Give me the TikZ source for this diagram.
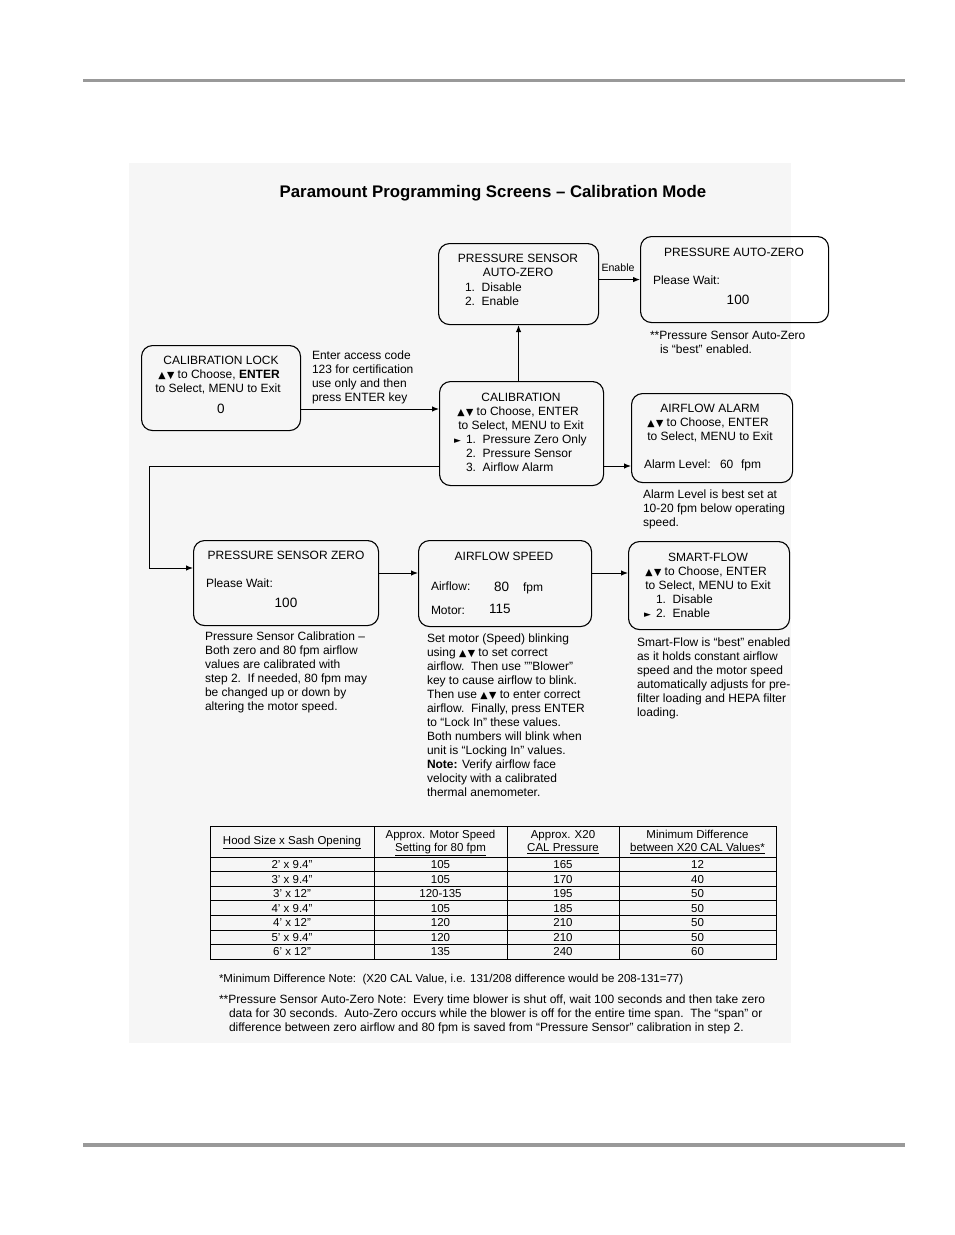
\documentclass[tikz,border=0pt]{standalone}
\usepackage{fontspec}
\setmainfont{Liberation Sans}
\newfontfamily\symf{DejaVu Sans}
\usetikzlibrary{arrows.meta}
\definecolor{rulegray}{HTML}{999999}
\definecolor{scangray}{HTML}{F6F6F6}
\newcounter{ln}
\newcommand\T[4][base west]{\stepcounter{ln}\edef\lnname{L\arabic{ln}}\node[txt,anchor=#1] (\lnname) at (#2,#3) {#4};}
\newcommand\ud{{\symf\fontsize{9.5}{10}\selectfont ▲\hspace{1.5pt}▼}}
\newcommand\rt{{\symf\fontsize{9}{10}\selectfont ►}}
\newcommand\bignum{\fontsize{13.5}{14}\selectfont}
\begin{document}
\begin{tikzpicture}[x=1pt,y=-1pt,
  txt/.style={inner sep=0pt,outer sep=0pt,font=\fontsize{12}{14}\selectfont},
  box/.style={draw,line width=1.1pt,rounded corners=11pt,inner sep=0pt,anchor=north west},
  arr/.style={-{Latex[length=7pt,width=5.5pt]},line width=1pt},
  tab/.style={line width=0.7pt}]
\useasboundingbox (0,0) rectangle (954,1235);
\fill[scangray] (129,163) rectangle (791,1043);
\draw[rulegray,line width=3pt] (83,80) -- (905,80);
\draw[rulegray,line width=3.5pt] (83,1145) -- (905,1145);
\node[inner sep=0pt,anchor=base,font=\bfseries\fontsize{16.8}{18}\selectfont] (title) at (493,197) {Paramount Programming Screens – Calibration Mode};
% boxes
\node[box,minimum width=160pt,minimum height=81pt] (psaz) at (438,243) {};
\node[box,minimum width=188pt,minimum height=86pt] (paz) at (640,236) {};
\node[box,minimum width=159pt,minimum height=85pt] (lock) at (141,345) {};
\node[box,minimum width=164pt,minimum height=104pt] (cal) at (439,381) {};
\node[box,minimum width=161pt,minimum height=89pt] (alarm) at (631,393) {};
\node[box,minimum width=185pt,minimum height=85pt] (pszero) at (193,540) {};
\node[box,minimum width=173pt,minimum height=86pt] (aspeed) at (418,540) {};
\node[box,minimum width=161pt,minimum height=88pt] (smart) at (628,541) {};
% connectors
\draw[arr] (cal.north -| psaz.south) -- (psaz.south);
\draw[arr] (psaz.east |- paz.west) -- (paz.west);
\node[inner sep=0pt,anchor=base,font=\fontsize{10.6}{12}\selectfont] (enable) at (618,271) {Enable};
\draw[arr] (lock.east |- 0,409) -- (cal.west |- 0,409);
\draw[arr] (cal.east |- 0,466) -- (alarm.west |- 0,466);
\coordinate (c1) at (149,466);
\coordinate (c2) at (149,568);
\draw[arr] (cal.west |- c1) -- (c1) -- (c2) -- (pszero.west |- c2);
\draw[arr] (pszero.east |- 0,573) -- (aspeed.west |- 0,573);
\draw[arr] (aspeed.east |- 0,573) -- (smart.west |- 0,573);
% PS auto-zero
\T[base]{518}{262}{PRESSURE SENSOR}
\T[base]{518}{276}{AUTO-ZERO}
\T{465}{291}{1.\ \ Disable}
\T{465}{305}{2.\ \ Enable}
% pressure auto-zero
\T[base]{734}{256}{PRESSURE AUTO-ZERO}
\T{653}{284}{Please Wait:}
\T[base]{738}{304}{\bignum 100}
\T{650}{339}{**Pressure Sensor Auto-Zero}
\T{660}{353}{is “best” enabled.}
% lock
\T[base]{221}{364}{CALIBRATION LOCK}
\T[base]{219}{378}{\ud\ to Choose, \textbf{ENTER}}
\T[base]{218}{392}{to Select, MENU to Exit}
\T[base]{221}{413}{\bignum 0}
\T{312}{359}{Enter access code}
\T{312}{373}{123 for certification}
\T{312}{387}{use only and then}
\T{312}{401}{press ENTER key}
% calibration
\T[base]{521}{401}{CALIBRATION}
\T[base]{518}{415}{\ud\ to Choose, ENTER}
\T[base]{521}{429}{to Select, MENU to Exit}
\T{454}{443}{\rt}
\T{466}{443}{1.\ \ Pressure Zero Only}
\T{466}{457}{2.\ \ Pressure Sensor}
\T{466}{471}{3.\ \ Airflow Alarm}
% airflow alarm
\T[base]{710}{412}{AIRFLOW ALARM}
\T[base]{708}{426}{\ud\ to Choose, ENTER}
\T[base]{710}{440}{to Select, MENU to Exit}
\T{644}{468}{Alarm Level:}
\T{720}{468}{60}
\T{741}{468}{fpm}
\T{643}{498}{Alarm Level is best set at}
\T{643}{512}{10-20 fpm below operating}
\T{643}{526}{speed.}
% pressure sensor zero
\T[base]{286}{559}{PRESSURE SENSOR ZERO}
\T{206}{587}{Please Wait:}
\T[base]{286}{607}{\bignum 100}
\T{205}{640}{Pressure Sensor Calibration –}
\T{205}{654}{Both zero and 80 fpm airflow}
\T{205}{668}{values are calibrated with}
\T{205}{682}{step 2.\ \ If needed, 80 fpm may}
\T{205}{696}{be changed up or down by}
\T{205}{710}{altering the motor speed.}
% airflow speed
\T[base]{504}{560}{AIRFLOW SPEED}
\T{431}{590}{Airflow:}
\T{494}{591}{\bignum 80}
\T{523}{591}{fpm}
\T{431}{614}{Motor:}
\T{489}{613}{\bignum 115}
\T{427}{642}{Set motor (Speed) blinking}
\T{427}{656}{using \ud\ to set correct}
\T{427}{670}{airflow.\ \ Then use ""Blower"}
\T{427}{684}{key to cause airflow to blink.}
\T{427}{698}{Then use \ud\ to enter correct}
\T{427}{712}{airflow.\ \ Finally, press ENTER}
\T{427}{726}{to “Lock In” these values.}
\T{427}{740}{Both numbers will blink when}
\T{427}{754}{unit is “Locking In” values.}
\T{427}{768}{\textbf{Note:} Verify airflow face}
\T{427}{782}{velocity with a calibrated}
\T{427}{796}{thermal anemometer.}
% smart-flow
\T[base]{708}{561}{SMART-FLOW}
\T[base]{706}{575}{\ud\ to Choose, ENTER}
\T[base]{708}{589}{to Select, MENU to Exit}
\T{656}{603}{1.\ \ Disable}
\T{644}{617}{\rt}
\T{656}{617}{2.\ \ Enable}
\T{637}{646}{Smart-Flow is “best” enabled}
\T{637}{660}{as it holds constant airflow}
\T{637}{674}{speed and the motor speed}
\T{637}{688}{automatically adjusts for pre-}
\T{637}{702}{filter loading and HEPA filter}
\T{637}{716}{loading.}
% table
\draw[tab] (210,826) rectangle (776,959);
\foreach \xx in {374,507,619} \draw[tab] (\xx,826) -- (\xx,959);
\foreach \i in {0,...,6} \draw[tab] (210,{857+\i*14.571}) -- (776,{857+\i*14.571});
\begin{scope}[txt/.style={inner sep=0pt,outer sep=0pt,font=\fontsize{11.5}{13}\selectfont}]
\T[base]{292}{844}{\underline{Hood Size x Sash Opening}}
\T[base]{440.5}{838}{Approx. Motor Speed}
\T[base]{440.5}{851.5}{\underline{Setting for 80 fpm}}
\T[base]{563}{838}{Approx. X20}
\T[base]{563}{851.5}{\underline{CAL Pressure}}
\T[base]{697.5}{838}{Minimum Difference}
\T[base]{697.5}{851.5}{\underline{between X20 CAL Values*}}
\foreach \a/\b/\c/\d [count=\r from 0] in {2' x 9.4"/105/165/12, 3' x 9.4"/105/170/40, 3' x 12"/120-135/195/50, 4' x 9.4"/105/185/50, 4' x 12"/120/210/50, 5' x 9.4"/120/210/50, 6' x 12"/135/240/60}{
  \pgfmathsetmacro\yy{857+(\r+0.5)*14.571+4.2}
  \T[base]{292}{\yy}{\a}
  \T[base]{440.5}{\yy}{\b}
  \T[base]{563}{\yy}{\c}
  \T[base]{697.5}{\yy}{\d}
}
\T{219}{982}{*Minimum Difference Note:\ \ (X20 CAL Value, i.e. 131/208 difference would be 208-131=77)}
\end{scope}
\T{219}{1003}{**Pressure Sensor Auto-Zero Note:\ \ Every time blower is shut off, wait 100 seconds and then take zero}
\T{229}{1017}{data for 30 seconds.\ \ Auto-Zero occurs while the blower is off for the entire time span.\ \ The “span” or}
\T{229}{1031}{difference between zero airflow and 80 fpm is saved from “Pressure Sensor” calibration in step 2.}
\end{tikzpicture}
\end{document}
